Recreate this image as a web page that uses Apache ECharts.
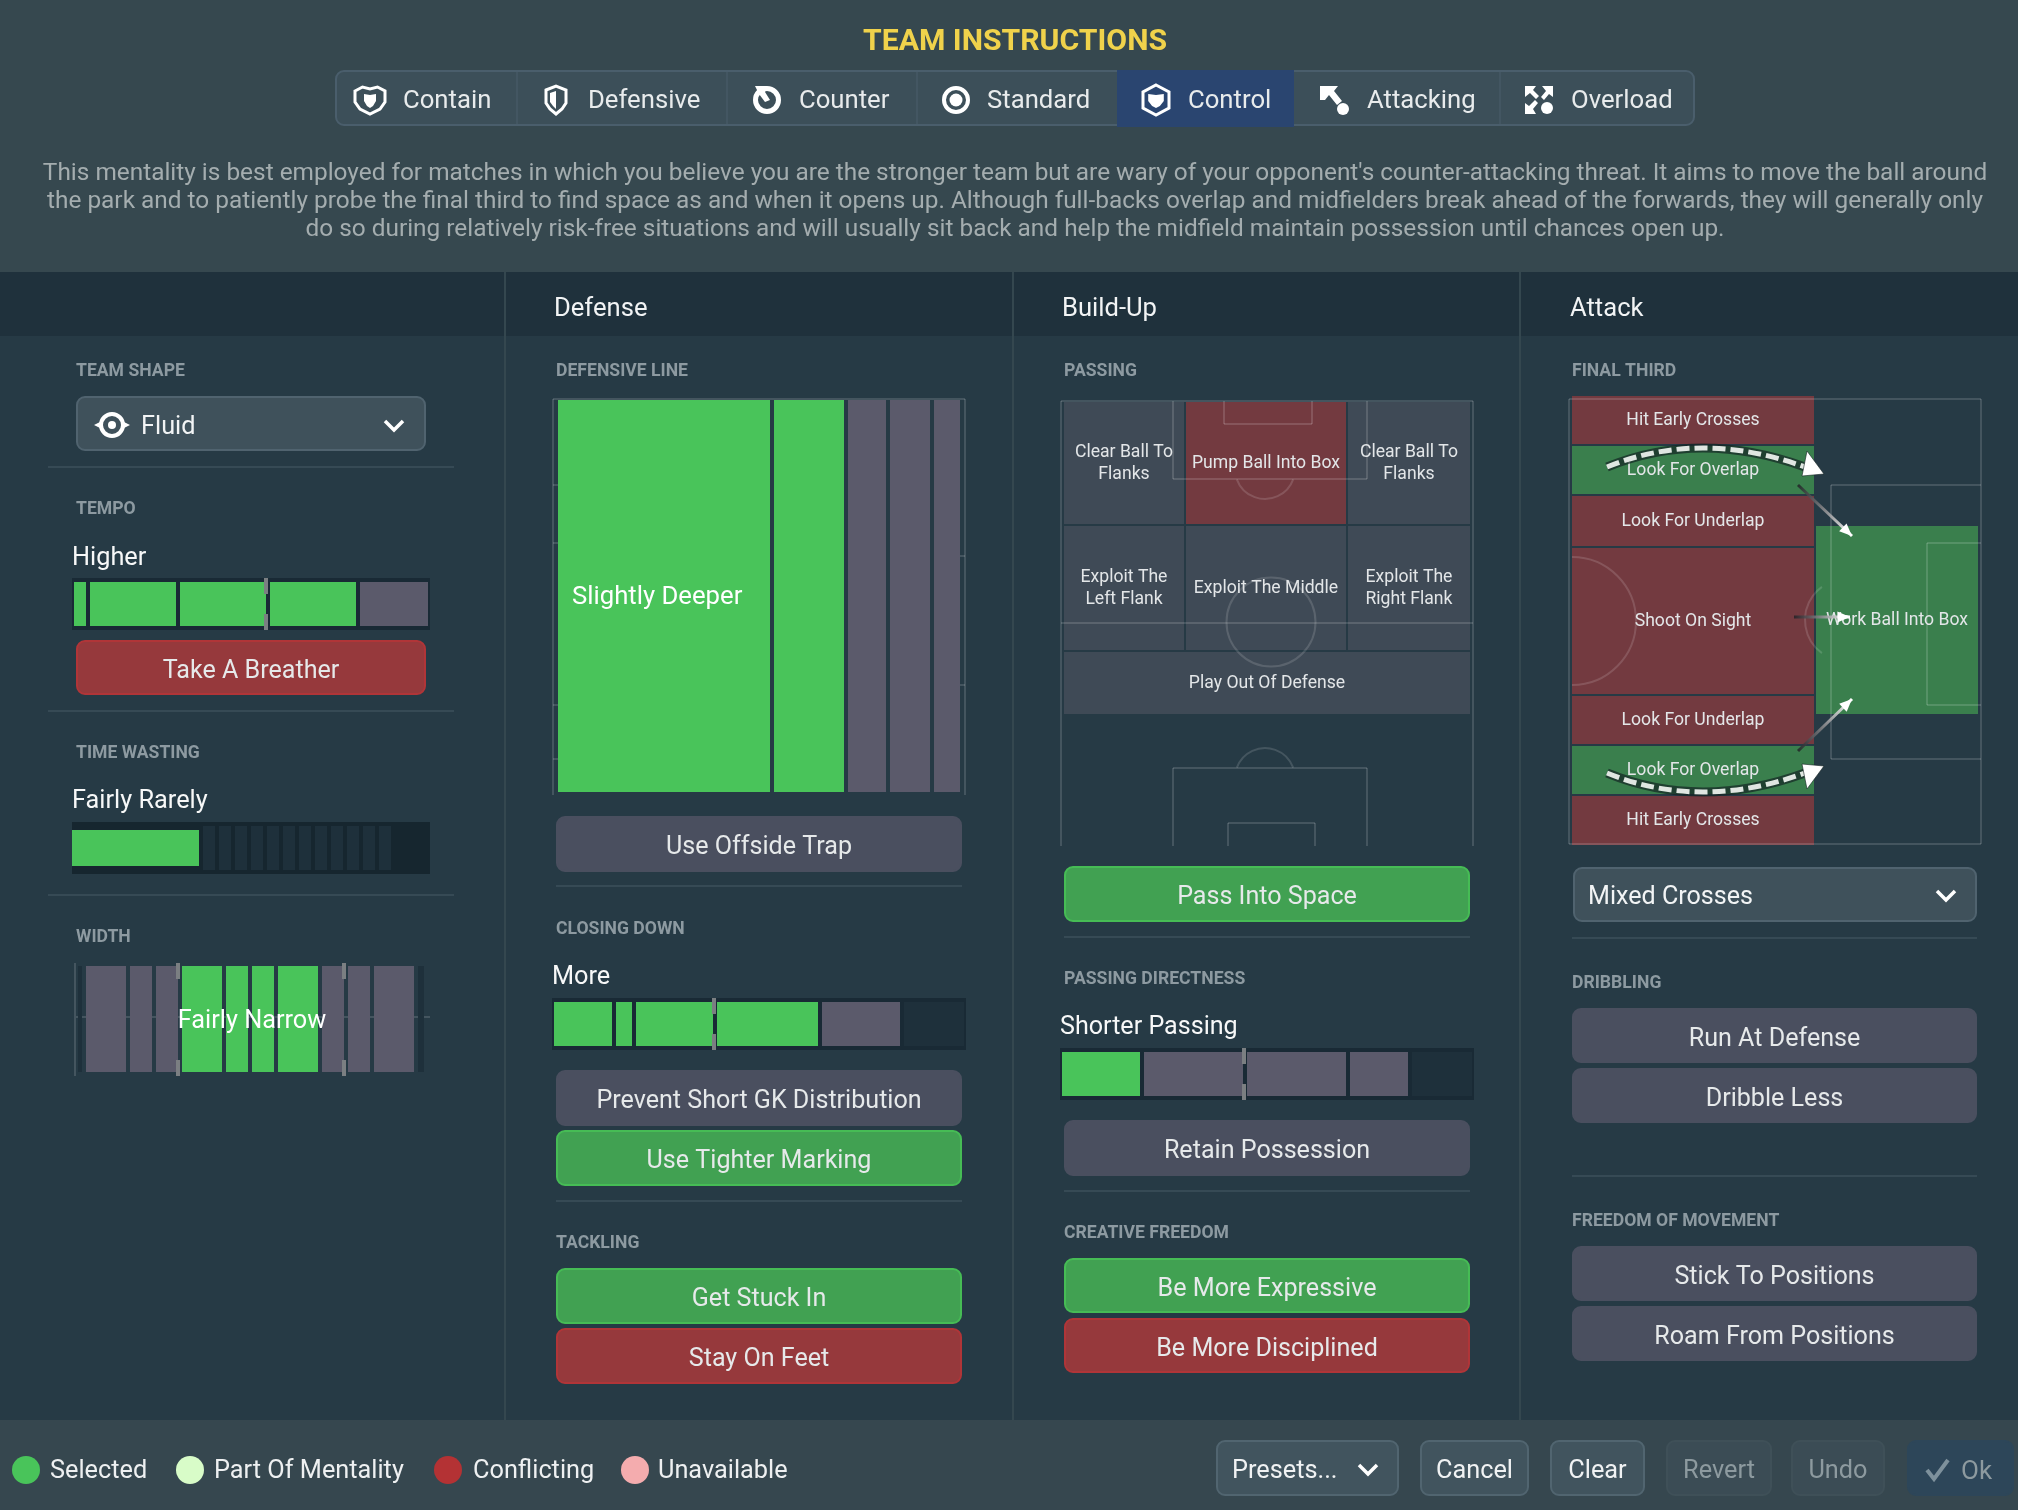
<!DOCTYPE html>
<html>
<head>
<meta charset="utf-8">
<title>Team Instructions</title>
<script src="https://cdn.jsdelivr.net/npm/echarts@6/dist/echarts.min.js"></script>
<style>
html, body { margin: 0; padding: 0; background: #263a45; }
#main { width: 2018px; height: 1510px; }
</style>
</head>
<body>
<div id="main"></div>
<script>
// values
const mentalities = ['Contain', 'Defensive', 'Counter', 'Standard', 'Control', 'Attacking', 'Overload'];
const descriptionLines = [
    "This mentality is best employed for matches in which you believe you are the stronger team but are wary of your opponent's counter-attacking threat. It aims to move the ball around",
    "the park and to patiently probe the final third to find space as and when it opens up. Although full-backs overlap and midfielders break ahead of the forwards, they will generally only",
    "do so during relatively risk-free situations and will usually sit back and help the midfield maintain possession until chances open up."
];
const columnTitles = ['Defense', 'Build-Up', 'Attack'];
const sectionTitles = ['TEAM SHAPE', 'TEMPO', 'TIME WASTING', 'WIDTH', 'DEFENSIVE LINE', 'CLOSING DOWN', 'TACKLING',
    'PASSING', 'PASSING DIRECTNESS', 'CREATIVE FREEDOM', 'FINAL THIRD', 'DRIBBLING', 'FREEDOM OF MOVEMENT'];

const tempoLengths = [12, 86, 86, 86, 68];
const tempoStates = ['on', 'on', 'on', 'on', 'off'];
const timeWastingLengths = [127, 12, 12, 12, 12, 12, 12, 12, 12, 12, 12, 12, 12];
const timeWastingStates = ['thin', 'empty', 'empty', 'empty', 'empty', 'empty', 'empty', 'empty', 'empty', 'empty', 'empty', 'empty', 'empty'];
const widthLengths = [4, 40, 22, 22, 40, 22, 22, 40, 22, 22, 40, 6];
const widthStates = ['empty', 'off', 'off', 'off', 'on', 'on', 'on', 'on', 'off', 'off', 'off', 'empty'];
const defensiveLengths = [212, 70, 38, 40, 26];
const defensiveStates = ['on', 'on', 'off', 'off', 'off'];
const closingLengths = [58, 16, 77, 101, 78, 60];
const closingStates = ['on', 'on', 'on', 'on', 'off', 'empty'];
const directnessLengths = [78, 99, 99, 58, 60];
const directnessStates = ['on', 'off', 'off', 'off', 'empty'];

const passingLabels = ['Clear Ball To\nFlanks', 'Pump Ball Into Box', 'Clear Ball To\nFlanks', 'Exploit The\nLeft Flank',
    'Exploit The Middle', 'Exploit The\nRight Flank', 'Play Out Of Defense'];
const passingColumns = [[0, 120], [122, 282], [284, 406], [0, 120], [122, 282], [284, 406], [0, 406]];
const passingRows = [[0, 122], [0, 122], [0, 122], [124, 248], [124, 248], [124, 248], [250, 312]];
const passingStates = ['idle', 'conflict', 'idle', 'idle', 'idle', 'idle', 'idle'];

const thirdLabels = ['Hit Early Crosses', 'Look For Overlap', 'Look For Underlap', 'Shoot On Sight', 'Look For Underlap',
    'Look For Overlap', 'Hit Early Crosses', 'Work Ball Into Box'];
const thirdColumns = [[0, 242], [0, 242], [0, 242], [0, 242], [0, 242], [0, 242], [0, 242], [244, 406]];
const thirdRows = [[0, 48], [50, 98], [100, 150], [152, 298], [300, 348], [350, 398], [400, 449], [130, 318]];
const thirdStates = ['conflict', 'selected', 'conflict', 'conflict', 'conflict', 'selected', 'conflict', 'selected'];

const buttonLabels = ['Take A Breather', 'Use Offside Trap', 'Prevent Short GK Distribution', 'Use Tighter Marking',
    'Get Stuck In', 'Stay On Feet', 'Pass Into Space', 'Retain Possession', 'Be More Expressive', 'Be More Disciplined',
    'Run At Defense', 'Dribble Less', 'Stick To Positions', 'Roam From Positions'];
const buttonStates = ['conflict', 'idle', 'idle', 'selected', 'selected', 'conflict', 'selected', 'idle', 'selected', 'conflict',
    'idle', 'idle', 'idle', 'idle'];

const legendLabels = ['Selected', 'Part Of Mentality', 'Conflicting', 'Unavailable'];
const legendColors = ['#49c45a', '#d8fcc8', '#b43234', '#f4acae'];
const footerLabels = ['Presets...', 'Cancel', 'Clear', 'Revert', 'Undo', 'Ok'];

// styles
const FONT = 'Roboto';
const GAP = 4;
const sliderFill = { on: '#49c45a', thin: '#49c45a', off: '#5b5a6b', empty: '#1e303b' };
const cellFill = { idle: '#3f4a56', conflict: '#733a40', selected: '#3a7f4d' };
const buttonFill = { idle: '#4a4f5f', selected: '#41a152', conflict: '#96393c' };
const buttonStroke = { idle: '#4a4f5f', selected: '#46bc55', conflict: '#b03538' };
const LINE = 'rgba(255,255,255,0.14)';

const chart = echarts.init(document.getElementById('main'));
const grids = [], xAxes = [], yAxes = [], series = [], g = [];

function text(str, x, y, size, fill, align, weight) {
    g.push({
        type: 'text', z: 5, silent: true,
        // the font sits high in its box, so nudge it down
        style: { text: str, x: x, y: y + 3, fill: fill || '#fff', align: align || 'left', verticalAlign: 'middle',
            font: (weight || 'normal') + ' ' + size + 'px ' + FONT }
    });
}
function box(x, y, w, h, fill, stroke, r, z) {
    const inset = stroke ? 1 : 0;
    g.push({
        type: 'rect', z: z === undefined ? 1 : z, silent: true,
        shape: { x: x + inset, y: y + inset, width: w - inset * 2, height: h - inset * 2, r: r || 0 },
        style: { fill: fill, stroke: stroke || null, lineWidth: stroke ? 2 : 0 }
    });
}
function seg(x1, y1, x2, y2, color, width, z) {
    g.push({
        type: 'line', z: z === undefined ? 3 : z, silent: true,
        shape: { x1: x1, y1: y1, x2: x2, y2: y2 },
        style: { stroke: color || LINE, lineWidth: width || 2 }
    });
}
function poly(cx, cy, pts, fill, stroke, width) {
    g.push({
        type: 'polygon', z: 5, silent: true,
        shape: { points: pts.map(p => [cx + p[0], cy + p[1]]) },
        style: { fill: fill || null, stroke: stroke || null, lineWidth: width || 0 }
    });
}
function ring(cx, cy, r, r0, fill) {
    g.push({ type: 'ring', z: 5, silent: true, shape: { cx: cx, cy: cy, r: r, r0: r0 }, style: { fill: fill || '#fff' } });
}
function dot(cx, cy, r, fill) {
    g.push({ type: 'circle', z: 5, silent: true, shape: { cx: cx, cy: cy, r: r }, style: { fill: fill } });
}
function arc(cx, cy, r, from, to) {
    g.push({
        type: 'arc', z: 3, silent: true,
        shape: { cx: cx, cy: cy, r: r, startAngle: from, endAngle: to },
        style: { stroke: LINE, lineWidth: 2, fill: null }
    });
}
function chevron(cx, cy) {
    g.push({
        type: 'polyline', z: 5, silent: true,
        shape: { points: [[cx - 9, cy - 4], [cx, cy + 5], [cx + 9, cy - 4]] },
        style: { stroke: '#fff', lineWidth: 3.5, fill: null }
    });
}

// one slider: a grid whose x axis counts the segment lengths
function slider(left, top, height, lengths, states) {
    const total = lengths.reduce((a, b) => a + b, 0) + GAP * (lengths.length - 1);
    const idx = grids.length;
    grids.push({ left: left, top: top, width: total, height: height, show: false });
    xAxes.push({ gridIndex: idx, type: 'value', min: 0, max: total, show: false });
    yAxes.push({ gridIndex: idx, type: 'value', min: 0, max: 1, show: false });
    let start = 0;
    const data = lengths.map((len, i) => {
        const item = { value: [start, len], state: states[i] };
        start += len + GAP;
        return item;
    });
    series.push({
        type: 'custom', xAxisIndex: idx, yAxisIndex: idx, z: 2, silent: true, data: data,
        encode: { x: [0, 1] },
        renderItem: function (params, api) {
            const st = data[params.dataIndex].state;
            const p = api.coord([api.value(0), 1]);
            const s = api.size([api.value(1), 1]);
            const inset = st === 'thin' ? 4 : 0;
            return { type: 'rect', shape: { x: p[0], y: p[1] + inset, width: s[0], height: s[1] - inset * 2 }, style: { fill: sliderFill[st] } };
        }
    });
}

// one pitch: cells placed on value axes, labels in a second series above the pitch lines
function pitchCells(left, top, width, height, labels, columns, rows, states) {
    const idx = grids.length;
    grids.push({ left: left, top: top, width: width, height: height, show: false });
    xAxes.push({ gridIndex: idx, type: 'value', min: 0, max: width, show: false });
    yAxes.push({ gridIndex: idx, type: 'value', min: 0, max: height, inverse: true, show: false });
    const data = labels.map((l, i) => [columns[i][0], columns[i][1], rows[i][0], rows[i][1]]);
    series.push({
        type: 'custom', xAxisIndex: idx, yAxisIndex: idx, z: 2, silent: true, data: data,
        encode: { x: [0, 1], y: [2, 3] },
        renderItem: function (params, api) {
            const a = api.coord([api.value(0), api.value(2)]);
            const b = api.coord([api.value(1), api.value(3)]);
            return { type: 'rect', shape: { x: a[0], y: a[1], width: b[0] - a[0], height: b[1] - a[1] }, style: { fill: cellFill[states[params.dataIndex]] } };
        }
    });
    series.push({
        type: 'custom', xAxisIndex: idx, yAxisIndex: idx, z: 4, silent: true, data: data,
        encode: { x: [0, 1], y: [2, 3] },
        renderItem: function (params, api) {
            const a = api.coord([api.value(0), api.value(2)]);
            const b = api.coord([api.value(1), api.value(3)]);
            return {
                type: 'text',
                style: { text: labels[params.dataIndex], x: (a[0] + b[0]) / 2, y: (a[1] + b[1]) / 2 + 0.5, fill: '#e3e6e8', align: 'center', verticalAlign: 'middle',
                    font: '17.6px ' + FONT, lineHeight: 22 }
            };
        }
    });
}

function handle(x, top, bottom) {
    box(x - 2, top, 4, 16, '#7b7f82', null, 0, 3);
    box(x - 2, bottom - 16, 4, 16, '#7b7f82', null, 0, 3);
}

// ---- panels
box(0, 0, 2018, 272, '#36484f', null, 0, 0);
box(0, 272, 2018, 64, '#1f313c', null, 0, 0);
box(0, 1420, 2018, 90, '#36474f', null, 0, 0);
[505, 1013, 1520].forEach(x => seg(x, 272, x, 1420, '#34474f', 2, 0));

// ---- header
text('TEAM INSTRUCTIONS', 1015, 39, 30.2, '#f0d24b', 'center', 'bold');
box(335, 70, 1360, 56, '#3c4f59', '#4a5e6c', 8);
box(1117, 70, 177, 57, '#2a4570');
[517, 727, 917, 1500].forEach(x => seg(x, 71, x, 125, '#4a5e6c', 1, 1));
const tabTextX = [403, 588, 799, 987, 1188, 1367, 1571];
mentalities.forEach((m, i) => text(m, tabTextX[i], 99, 25.7, '#e8ebec'));

const shield = [[-12, -9], [-6, -13], [0, -11], [6, -13], [12, -9], [12, 2], [8, 9], [0, 14], [-8, 9], [-12, 2]];
const shieldIn = [[-6, -6], [0, -5], [6, -6], [6, 1], [3, 6], [0, 8], [-3, 6], [-6, 1]];
poly(370, 100, shield.map(p => [p[0] * 1.25, p[1]]), null, '#fff', 3);
poly(370, 100, shieldIn, '#fff');
poly(556, 100, [[-10, -10], [0, -14], [10, -10], [10, 3], [6, 9], [0, 14], [-6, 9], [-10, 3]], null, '#fff', 3);
poly(556, 100, [[-6, -7], [0, -9], [0, 9], [-3, 6], [-6, 2]], '#fff');
ring(767, 100, 14, 9);
poly(767, 100, [[-12, -14], [0, -14], [-2, -8], [3, 0], [-2, 2], [-8, -6]], '#fff');
ring(956, 100, 14, 10);
dot(956, 100, 6.5, '#fff');
poly(1156, 100, [[0, -15], [13, -8], [13, 8], [0, 15], [-13, 8], [-13, -8]], null, '#fff', 3);
poly(1156, 100, shieldIn.map(p => [p[0] * 1.3, p[1]]), '#fff');
poly(1334, 100, [[-14, -14], [4, -14], [0, -9], [8, 1], [3, 5], [-5, -5], [-9, 0], [-14, 0]], '#fff');
dot(1343, 109, 6, '#fff');
poly(1539, 100, [[-14, 14], [-14, 3], [-10, 6], [-4, 0], [-1, 3], [-6, 9], [-3, 14]], '#fff');
poly(1539, 100, [[14, -14], [14, -3], [10, -6], [5, 0], [2, -3], [7, -9], [3, -14]], '#fff');
poly(1539, 100, [[-14, -14], [-3, -14], [-6, -10], [0, -4], [-3, -1], [-9, -7], [-14, -3]], '#fff');
dot(1547, 108, 6, '#fff');

descriptionLines.forEach((l, i) => text(l, 1015, 171 + i * 28, 24.4, '#a4adaf', 'center'));

const columnTitleX = [554, 1062, 1570];
columnTitles.forEach((t, i) => text(t, columnTitleX[i], 307, 25.6, '#f2f4f5'));

// ---- section titles
const sectionBoxes = [[76, 369], [76, 507], [76, 751], [76, 935], [556, 369], [556, 927], [556, 1241],
    [1064, 369], [1064, 977], [1064, 1231], [1572, 369], [1572, 981], [1572, 1219]];
sectionTitles.forEach((t, i) => text(t, sectionBoxes[i][0], sectionBoxes[i][1] - 0.5, 17.6, '#8d9aa1', 'left', 'bold'));

[[48, 454, 467], [48, 454, 711], [48, 454, 895], [556, 962, 886], [556, 962, 1201], [1064, 1470, 937], [1064, 1470, 1191],
    [1572, 1977, 938], [1572, 1977, 1176]].forEach(s => seg(s[0], s[2], s[1], s[2], '#364a55', 2, 0));

// ---- dropdowns
box(76, 396, 350, 55, '#3f515b', '#50636f', 8);
text('Fluid', 141, 425, 25.3, '#f2f4f5');
ring(112, 425, 13, 9);
dot(112, 425, 4, '#fff');
poly(112, 425, [[-18, 0], [-12, -3], [-12, 3]], '#fff');
poly(112, 425, [[18, 0], [12, -3], [12, 3]], '#fff');
chevron(394, 425);
box(1573, 867, 404, 55, '#3f515b', '#50636f', 8);
text('Mixed Crosses', 1588, 895, 25.1, '#f2f4f5');
chevron(1946, 895);

// ---- sliders
text('Higher', 72, 556, 25.3, '#f7f8f8');
box(72, 578, 358, 52, '#192a35');
slider(74, 582, 44, tempoLengths, tempoStates);
handle(266, 578, 630);

text('Fairly Rarely', 72, 799, 25.3, '#f7f8f8');
box(72, 822, 358, 52, '#16262f');
slider(72, 826, 44, timeWastingLengths, timeWastingStates);

seg(76, 1017, 430, 1017, LINE, 2, 1);
seg(75, 963, 75, 1076, LINE, 2, 1);
slider(78, 966, 106, widthLengths, widthStates);
handle(178, 963, 1076);
handle(344, 963, 1076);
text('Fairly Narrow', 252, 1019, 25.3, '#ffffff', 'center');

seg(553, 399, 965, 399, LINE, 2, 1);
seg(553, 399, 553, 795, LINE, 2, 1);
seg(965, 399, 965, 795, LINE, 2, 1);
[485, 543, 705, 759].forEach(y => seg(553, y, 558, y, LINE, 2, 1));
[556, 685].forEach(y => seg(960, y, 965, y, LINE, 2, 1));
slider(558, 400, 392, defensiveLengths, defensiveStates);
text('Slightly Deeper', 572, 595, 25.7, '#ffffff');

text('More', 552, 975, 25.3, '#f7f8f8');
box(552, 998, 414, 52, '#192a35');
slider(554, 1002, 44, closingLengths, closingStates);
handle(714, 998, 1050);

text('Shorter Passing', 1060, 1025, 25.1, '#f7f8f8');
box(1060, 1048, 414, 52, '#192a35');
slider(1062, 1052, 44, directnessLengths, directnessStates);
handle(1244, 1048, 1100);

// ---- pitches
pitchCells(1064, 402, 406, 312, passingLabels, passingColumns, passingRows, passingStates);
seg(1061, 401, 1473, 401); seg(1061, 401, 1061, 846); seg(1473, 401, 1473, 846);
seg(1173, 401, 1173, 479); seg(1367, 401, 1367, 479); seg(1173, 479, 1367, 479);
seg(1224, 401, 1224, 424); seg(1312, 401, 1312, 424); seg(1224, 424, 1312, 424);
arc(1265, 469, 30, 0.35, Math.PI - 0.35);
seg(1061, 623, 1473, 623);
arc(1271, 622, 44.5, 0, Math.PI * 2);
seg(1173, 768, 1367, 768); seg(1173, 768, 1173, 846); seg(1367, 768, 1367, 846);
seg(1228, 823, 1315, 823); seg(1228, 823, 1228, 846); seg(1315, 823, 1315, 846);
arc(1265, 778, 30, Math.PI + 0.35, Math.PI * 2 - 0.35);

pitchCells(1572, 396, 406, 449, thirdLabels, thirdColumns, thirdRows, thirdStates);
seg(1569, 399, 1981, 399); seg(1569, 844, 1981, 844); seg(1569, 399, 1569, 844); seg(1981, 399, 1981, 844);
seg(1831, 485, 1981, 485); seg(1831, 759, 1981, 759); seg(1831, 485, 1831, 759);
seg(1927, 543, 1981, 543); seg(1927, 705, 1981, 705); seg(1927, 543, 1927, 705);
arc(1572, 621, 64, -Math.PI / 2, Math.PI / 2);
arc(1846, 620, 41, Math.PI * 0.7, Math.PI * 1.3);

// overlap and underlap arrows
function dashedCurve(y1, cy, tipX, tipY, wing1, wing2) {
    g.push({
        type: 'bezierCurve', z: 6, silent: true,
        shape: { x1: 1607, y1: y1, x2: 1805, y2: y1, cpx1: 1700, cpy1: cy },
        style: { stroke: 'rgba(20,35,35,0.7)', lineWidth: 9, fill: null }
    });
    g.push({
        type: 'bezierCurve', z: 6, silent: true,
        shape: { x1: 1607, y1: y1, x2: 1805, y2: y1, cpx1: 1700, cpy1: cy },
        style: { stroke: '#dfe6e1', lineWidth: 5, lineDash: [13, 5], fill: null }
    });
    g.push({
        type: 'polygon', z: 6, silent: true,
        shape: { points: [[tipX, tipY], wing1, wing2] },
        style: { fill: '#ffffff', stroke: 'rgba(20,35,35,0.6)', lineWidth: 1 }
    });
}
dashedCurve(467, 429, 1824, 474, [1807, 451], [1802, 476]);
dashedCurve(773, 811, 1824, 766, [1807, 789], [1802, 764]);

function fadeArrow(x1, y1, x2, y2) {
    g.push({
        type: 'line', z: 6, silent: true,
        shape: { x1: x1, y1: y1, x2: x2, y2: y2 },
        style: { lineWidth: 3, stroke: new echarts.graphic.LinearGradient(x1, y1, x2, y2, [
            { offset: 0, color: 'rgba(30,30,35,0.8)' }, { offset: 1, color: '#ffffff' }], true) }
    });
    const a = Math.atan2(y2 - y1, x2 - x1);
    const w = 9;
    g.push({
        type: 'polygon', z: 6, silent: true,
        shape: { points: [[x2, y2],
            [x2 - w * 1.4 * Math.cos(a) - w * 0.6 * Math.sin(a), y2 - w * 1.4 * Math.sin(a) + w * 0.6 * Math.cos(a)],
            [x2 - w * 1.4 * Math.cos(a) + w * 0.6 * Math.sin(a), y2 - w * 1.4 * Math.sin(a) - w * 0.6 * Math.cos(a)]] },
        style: { fill: '#ffffff' }
    });
}
fadeArrow(1798, 485, 1852, 536);
fadeArrow(1794, 617, 1850, 617);
fadeArrow(1798, 751, 1852, 699);

// ---- buttons
const buttonBoxes = [[76, 640, 350, 55], [556, 816, 406, 56], [556, 1070, 406, 56], [556, 1130, 406, 56], [556, 1268, 406, 56], [556, 1328, 406, 56],
    [1064, 866, 406, 56], [1064, 1120, 406, 56], [1064, 1258, 406, 55], [1064, 1318, 406, 55],
    [1572, 1008, 405, 55], [1572, 1068, 405, 55], [1572, 1246, 405, 55], [1572, 1306, 405, 55]];
buttonLabels.forEach((t, i) => {
    const b = buttonBoxes[i], st = buttonStates[i];
    box(b[0], b[1], b[2], b[3], buttonFill[st], buttonStroke[st], 8);
    text(t, b[0] + b[2] / 2, b[1] + b[3] / 2 + 1, 25.1, '#e6e9ea', 'center');
});

// ---- footer
const legendDotX = [26, 190, 448, 635];
const legendTextX = [50, 214, 473, 658];
legendLabels.forEach((t, i) => {
    dot(legendDotX[i], 1470, 14, legendColors[i]);
    text(t, legendTextX[i], 1469, 25.3, '#eef0f1');
});

const footerBoxes = [[1216, 183], [1420, 109], [1550, 95], [1666, 106], [1791, 94], [1907, 107]];
const footerFill = ['#41545e', '#41545e', '#41545e', '#3b4c55', '#3b4c55', '#2d4659'];
const footerStroke = ['#516570', '#516570', '#516570', '#3f5058', '#3f5058', '#2d4659'];
const footerText = ['#f0f2f3', '#f0f2f3', '#f0f2f3', '#8d9a9f', '#8d9a9f', '#8d9a9f'];
footerLabels.forEach((t, i) => {
    const b = footerBoxes[i];
    box(b[0], 1440, b[1], 56, footerFill[i], footerStroke[i], 8);
    if (i === 0) text(t, 1232, 1469, 25.3, footerText[i]);
    else if (i === 5) text(t, 1961, 1469, 26, footerText[i]);
    else text(t, b[0] + b[1] / 2, 1469, 25.3, footerText[i], 'center');
});
chevron(1368, 1469);
g.push({
    type: 'polyline', z: 5, silent: true,
    shape: { points: [[1927, 1470], [1934, 1479], [1948, 1460]] },
    style: { stroke: '#7e919c', lineWidth: 4, fill: null }
});

chart.setOption({
    animation: false,
    backgroundColor: '#263a45',
    grid: grids,
    xAxis: xAxes,
    yAxis: yAxes,
    series: series,
    graphic: { elements: g }
});
</script>
</body>
</html>
